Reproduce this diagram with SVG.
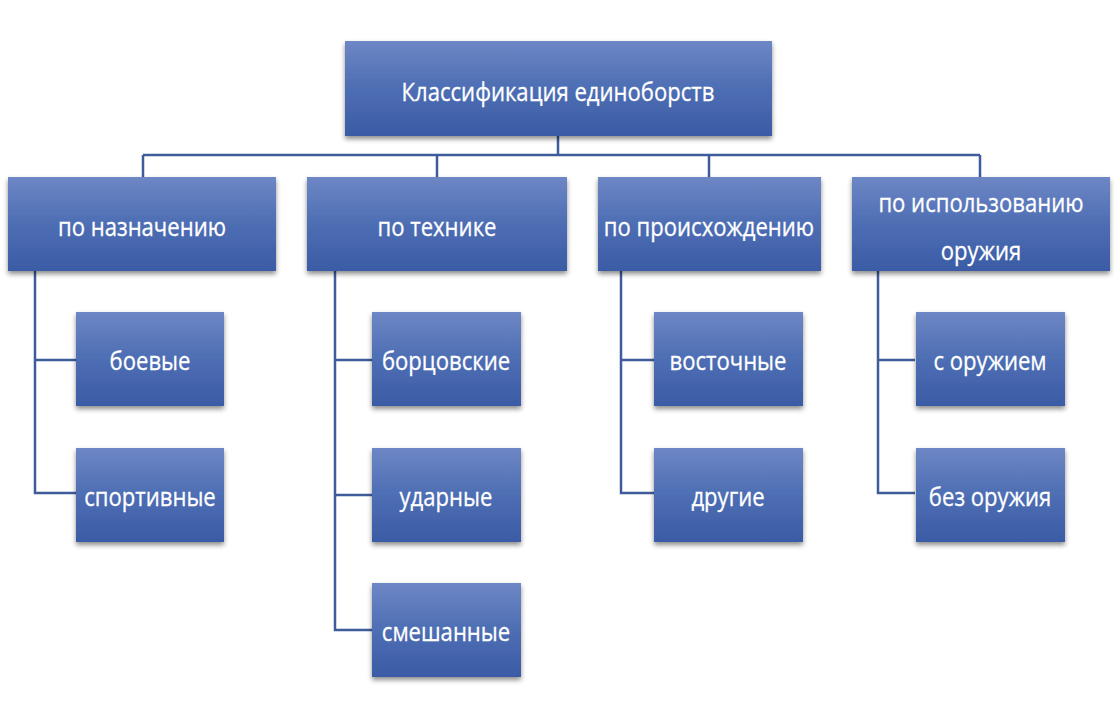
<svg xmlns="http://www.w3.org/2000/svg" width="1120" height="720" viewBox="0 0 1120 720">
<style>
.box{fill:url(#g);filter:url(#sh)}
.t{font-family:"Open Sans","Noto Sans","Liberation Sans",sans-serif;font-size:26px;fill:#ffffff;text-anchor:middle;dominant-baseline:central;stroke:#ffffff;stroke-width:0.3}
.c{stroke:#3E5B9C;stroke-width:2.5;fill:none}
</style>
<defs>
<linearGradient id="g" x1="0" y1="0" x2="0" y2="1">
<stop offset="0" stop-color="#6E87C5"/>
<stop offset="0.45" stop-color="#5070B5"/>
<stop offset="1" stop-color="#3A5BA5"/>
</linearGradient>
<filter id="sh" x="-10%" y="-10%" width="120%" height="130%">
<feDropShadow dx="0" dy="3" stdDeviation="2.5" flood-color="#000" flood-opacity="0.45"/>
</filter>
</defs>
<rect width="1120" height="720" fill="#ffffff"/>
<g id="connectors">
<path class="c" d="M558 136V155M143 155H980M143 155V177M437 155V177M709 155V177M980 155V177"/>
<path class="c" d="M35 271V493H76M35 360H76"/>
<path class="c" d="M335 271V630H372M335 360H372M335 495H372"/>
<path class="c" d="M621 271V493H654M621 360H654"/>
<path class="c" d="M878 271V493H915M878 360H915"/>
</g>
<g id="root"><rect class="box" x="345" y="41" width="427" height="95"/><text class="t" transform="translate(558 91) scale(0.85 1)">Классификация единоборств</text></g>
<g id="n1"><rect class="box" x="8" y="177" width="268" height="94"/><text class="t" transform="translate(142 226) scale(0.85 1)">по назначению</text></g>
<g id="n2"><rect class="box" x="307" y="177" width="260" height="94"/><text class="t" transform="translate(437 226) scale(0.85 1)">по технике</text></g>
<g id="n3"><rect class="box" x="598" y="177" width="223" height="94"/><text class="t" transform="translate(709 226) scale(0.85 1)">по происхождению</text></g>
<g id="n4"><rect class="box" x="852" y="177" width="258" height="94"/><text class="t" transform="translate(981 202) scale(0.85 1)">по использованию</text><text class="t" transform="translate(981 250) scale(0.85 1)">оружия</text></g>
<g id="n1a"><rect class="box" x="76" y="312" width="148" height="94"/><text class="t" transform="translate(150 360) scale(0.85 1)">боевые</text></g>
<g id="n1b"><rect class="box" x="76" y="448" width="148" height="94"/><text class="t" transform="translate(150 496) scale(0.85 1)">спортивные</text></g>
<g id="n2a"><rect class="box" x="372" y="312" width="149" height="94"/><text class="t" transform="translate(446 360) scale(0.85 1)">борцовские</text></g>
<g id="n2b"><rect class="box" x="372" y="448" width="149" height="94"/><text class="t" transform="translate(446 496) scale(0.85 1)">ударные</text></g>
<g id="n2c"><rect class="box" x="372" y="583" width="149" height="94"/><text class="t" transform="translate(446 631) scale(0.85 1)">смешанные</text></g>
<g id="n3a"><rect class="box" x="654" y="312" width="149" height="94"/><text class="t" transform="translate(728 360) scale(0.85 1)">восточные</text></g>
<g id="n3b"><rect class="box" x="654" y="448" width="149" height="94"/><text class="t" transform="translate(728 496) scale(0.85 1)">другие</text></g>
<g id="n4a"><rect class="box" x="916" y="312" width="149" height="94"/><text class="t" transform="translate(990 360) scale(0.85 1)">с оружием</text></g>
<g id="n4b"><rect class="box" x="916" y="448" width="149" height="94"/><text class="t" transform="translate(990 496) scale(0.85 1)">без оружия</text></g>
</svg>
